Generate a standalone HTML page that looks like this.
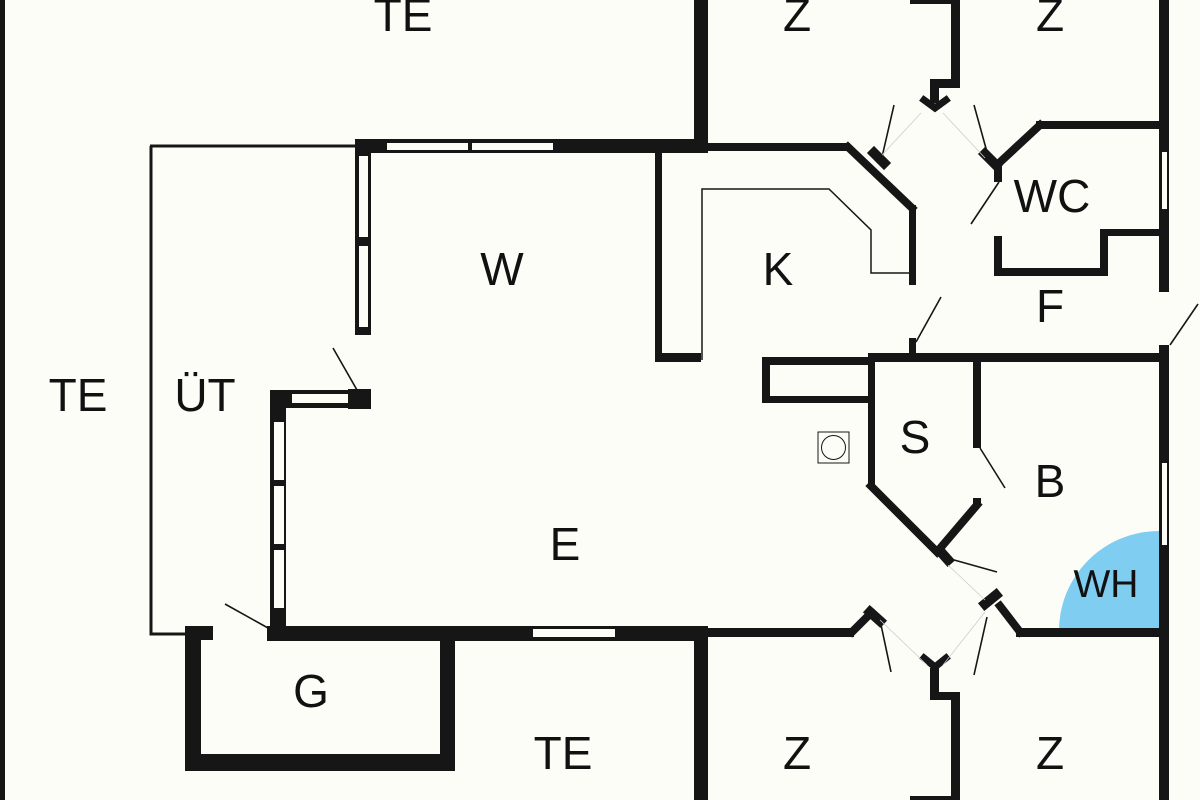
<!DOCTYPE html>
<html><head><meta charset="utf-8"><style>
html,body{margin:0;padding:0;background:#fdfdf8;}
svg{display:block;}
text{font-family:"Liberation Sans",sans-serif;fill:#111;text-anchor:middle;}
</style></head><body>
<svg width="1200" height="800" viewBox="0 0 1200 800" xmlns="http://www.w3.org/2000/svg">
<rect width="1200" height="800" fill="#fdfdf8"/>
<path d="M1159,633 L1059,633 A100,100 0 0 1 1159,531 Z" fill="#7fcdf0"/>
<g fill="#161616">
<rect x="0" y="0" width="5" height="800"/>
<rect x="694" y="0" width="14" height="153"/>
<rect x="355" y="139" width="353" height="14"/>
<rect x="355" y="139" width="16" height="196"/>
<rect x="348" y="389" width="23" height="20"/>
<rect x="270" y="390" width="100" height="18"/>
<rect x="270" y="390" width="16" height="250"/>
<rect x="267" y="626" width="441" height="15"/>
<rect x="694" y="626" width="14" height="174"/>
<rect x="694" y="628" width="160" height="9"/>
<rect x="185" y="626" width="28" height="14"/>
<rect x="185" y="626" width="16" height="145"/>
<rect x="185" y="754" width="270" height="17"/>
<rect x="440" y="628" width="15" height="143"/>
<rect x="655" y="143" width="195" height="8"/>
<rect x="655" y="143" width="7" height="219"/>
<rect x="655" y="353" width="46" height="9"/>
<rect x="909" y="205" width="7" height="80"/>
<rect x="909" y="338" width="7" height="20"/>
<rect x="868" y="353" width="300" height="9"/>
<rect x="762" y="357" width="106" height="8"/>
<rect x="762" y="357" width="8" height="46"/>
<rect x="762" y="396" width="106" height="7"/>
<rect x="868" y="353" width="7" height="132"/>
<rect x="973" y="353" width="8" height="95"/>
<rect x="973" y="498" width="8" height="8"/>
<rect x="910" y="0" width="50" height="4"/>
<rect x="951" y="0" width="9" height="88"/>
<rect x="930" y="79" width="30" height="9"/>
<rect x="930" y="79" width="9" height="24"/>
<rect x="930" y="668" width="9" height="32"/>
<rect x="930" y="692" width="30" height="8"/>
<rect x="951" y="692" width="9" height="108"/>
<rect x="910" y="796" width="50" height="4"/>
<rect x="1036" y="121" width="125" height="8"/>
<rect x="994" y="160" width="8" height="22"/>
<rect x="994" y="236" width="8" height="40"/>
<rect x="994" y="268" width="114" height="8"/>
<rect x="1100" y="229" width="8" height="47"/>
<rect x="1100" y="229" width="60" height="7"/>
<rect x="1159" y="0" width="10" height="292"/>
<rect x="1159" y="345" width="10" height="455"/>
<rect x="1016" y="628" width="145" height="9"/>
</g>
<g stroke="#161616" fill="none" stroke-linecap="square">
<path d="M848,147 L912,208" stroke-width="8"/>
<path d="M871,486 L937,552 L977,505" stroke-width="8"/>
<path d="M998,164 L1040,125" stroke-width="8"/>
<path d="M1000,606 L1020,632" stroke-width="8"/>
<path d="M852,632 L870,614" stroke-width="8"/>
<path d="M874,153 L884,163" stroke-width="10"/>
<path d="M985,154 L996,165" stroke-width="10"/>
<path d="M940,551 L948,560" stroke-width="10"/>
<path d="M985,604 L996,595" stroke-width="10"/>
<path d="M870,612 L880,621" stroke-width="10"/>
<path d="M924,100 L935,108 L946,100" stroke-width="7"/>
<path d="M924,658 L935,667 L946,658" stroke-width="7"/>
</g>
<g fill="#fdfdf8">
<rect x="387" y="143" width="81" height="7"/>
<rect x="472" y="143" width="81" height="7"/>
<rect x="359" y="156" width="9" height="81"/>
<rect x="359" y="246" width="9" height="81"/>
<rect x="292" y="394" width="56" height="9"/>
<rect x="274" y="422" width="10" height="58"/>
<rect x="274" y="486" width="10" height="58"/>
<rect x="274" y="550" width="10" height="58"/>
<rect x="533" y="629" width="82" height="8"/>
<rect x="1162" y="152" width="5" height="57"/>
<rect x="1162" y="463" width="5" height="82"/>
</g>
<g stroke="#161616" fill="none">
<path d="M150,146 L356,146 M151,146 L151,634 L187,634" stroke-width="3"/>
<path d="M702,360 L702,189 L829,189 L871,230 L871,273 L909,273" stroke-width="1.5"/>
<g stroke-width="1.6">
<line x1="333" y1="348" x2="357" y2="390"/>
<line x1="225" y1="604" x2="268" y2="628"/>
<line x1="916" y1="342" x2="941" y2="297"/>
<line x1="894" y1="105" x2="882" y2="157"/>
<line x1="974" y1="105" x2="987" y2="152"/>
<line x1="999" y1="182" x2="971" y2="224"/>
<line x1="1170" y1="345" x2="1198" y2="304"/>
<line x1="980" y1="448" x2="1005" y2="488"/>
<line x1="947" y1="558" x2="997" y2="572"/>
<line x1="880" y1="620" x2="891" y2="672"/>
<line x1="987" y1="617" x2="974" y2="675"/>
</g>
<g stroke="#ccc" stroke-width="0.8">
<line x1="921" y1="113" x2="882" y2="155"/>
<line x1="943" y1="113" x2="985" y2="158"/>
<line x1="948" y1="565" x2="985" y2="600"/>
<line x1="880" y1="620" x2="927" y2="665"/>
<line x1="985" y1="612" x2="943" y2="665"/>
</g>
<rect x="818" y="432" width="31" height="31" stroke-width="1"/>
<circle cx="833.5" cy="447.5" r="12" stroke-width="1"/>
</g>
<g font-size="46">
<text x="403" y="31">TE</text>
<text x="797" y="31">Z</text>
<text x="1050" y="31">Z</text>
<text x="502" y="285">W</text>
<text x="778" y="285">K</text>
<text x="1052" y="212">WC</text>
<text x="1050" y="322">F</text>
<text x="78" y="411">TE</text>
<text x="205" y="411">ÜT</text>
<text x="915" y="453">S</text>
<text x="1050" y="497">B</text>
<text x="565" y="560">E</text>
<text x="311" y="707">G</text>
<text x="563" y="769">TE</text>
<text x="797" y="769">Z</text>
<text x="1050" y="769">Z</text>
</g>
<text x="1106" y="597" font-size="39">WH</text>
</svg>
</body></html>
